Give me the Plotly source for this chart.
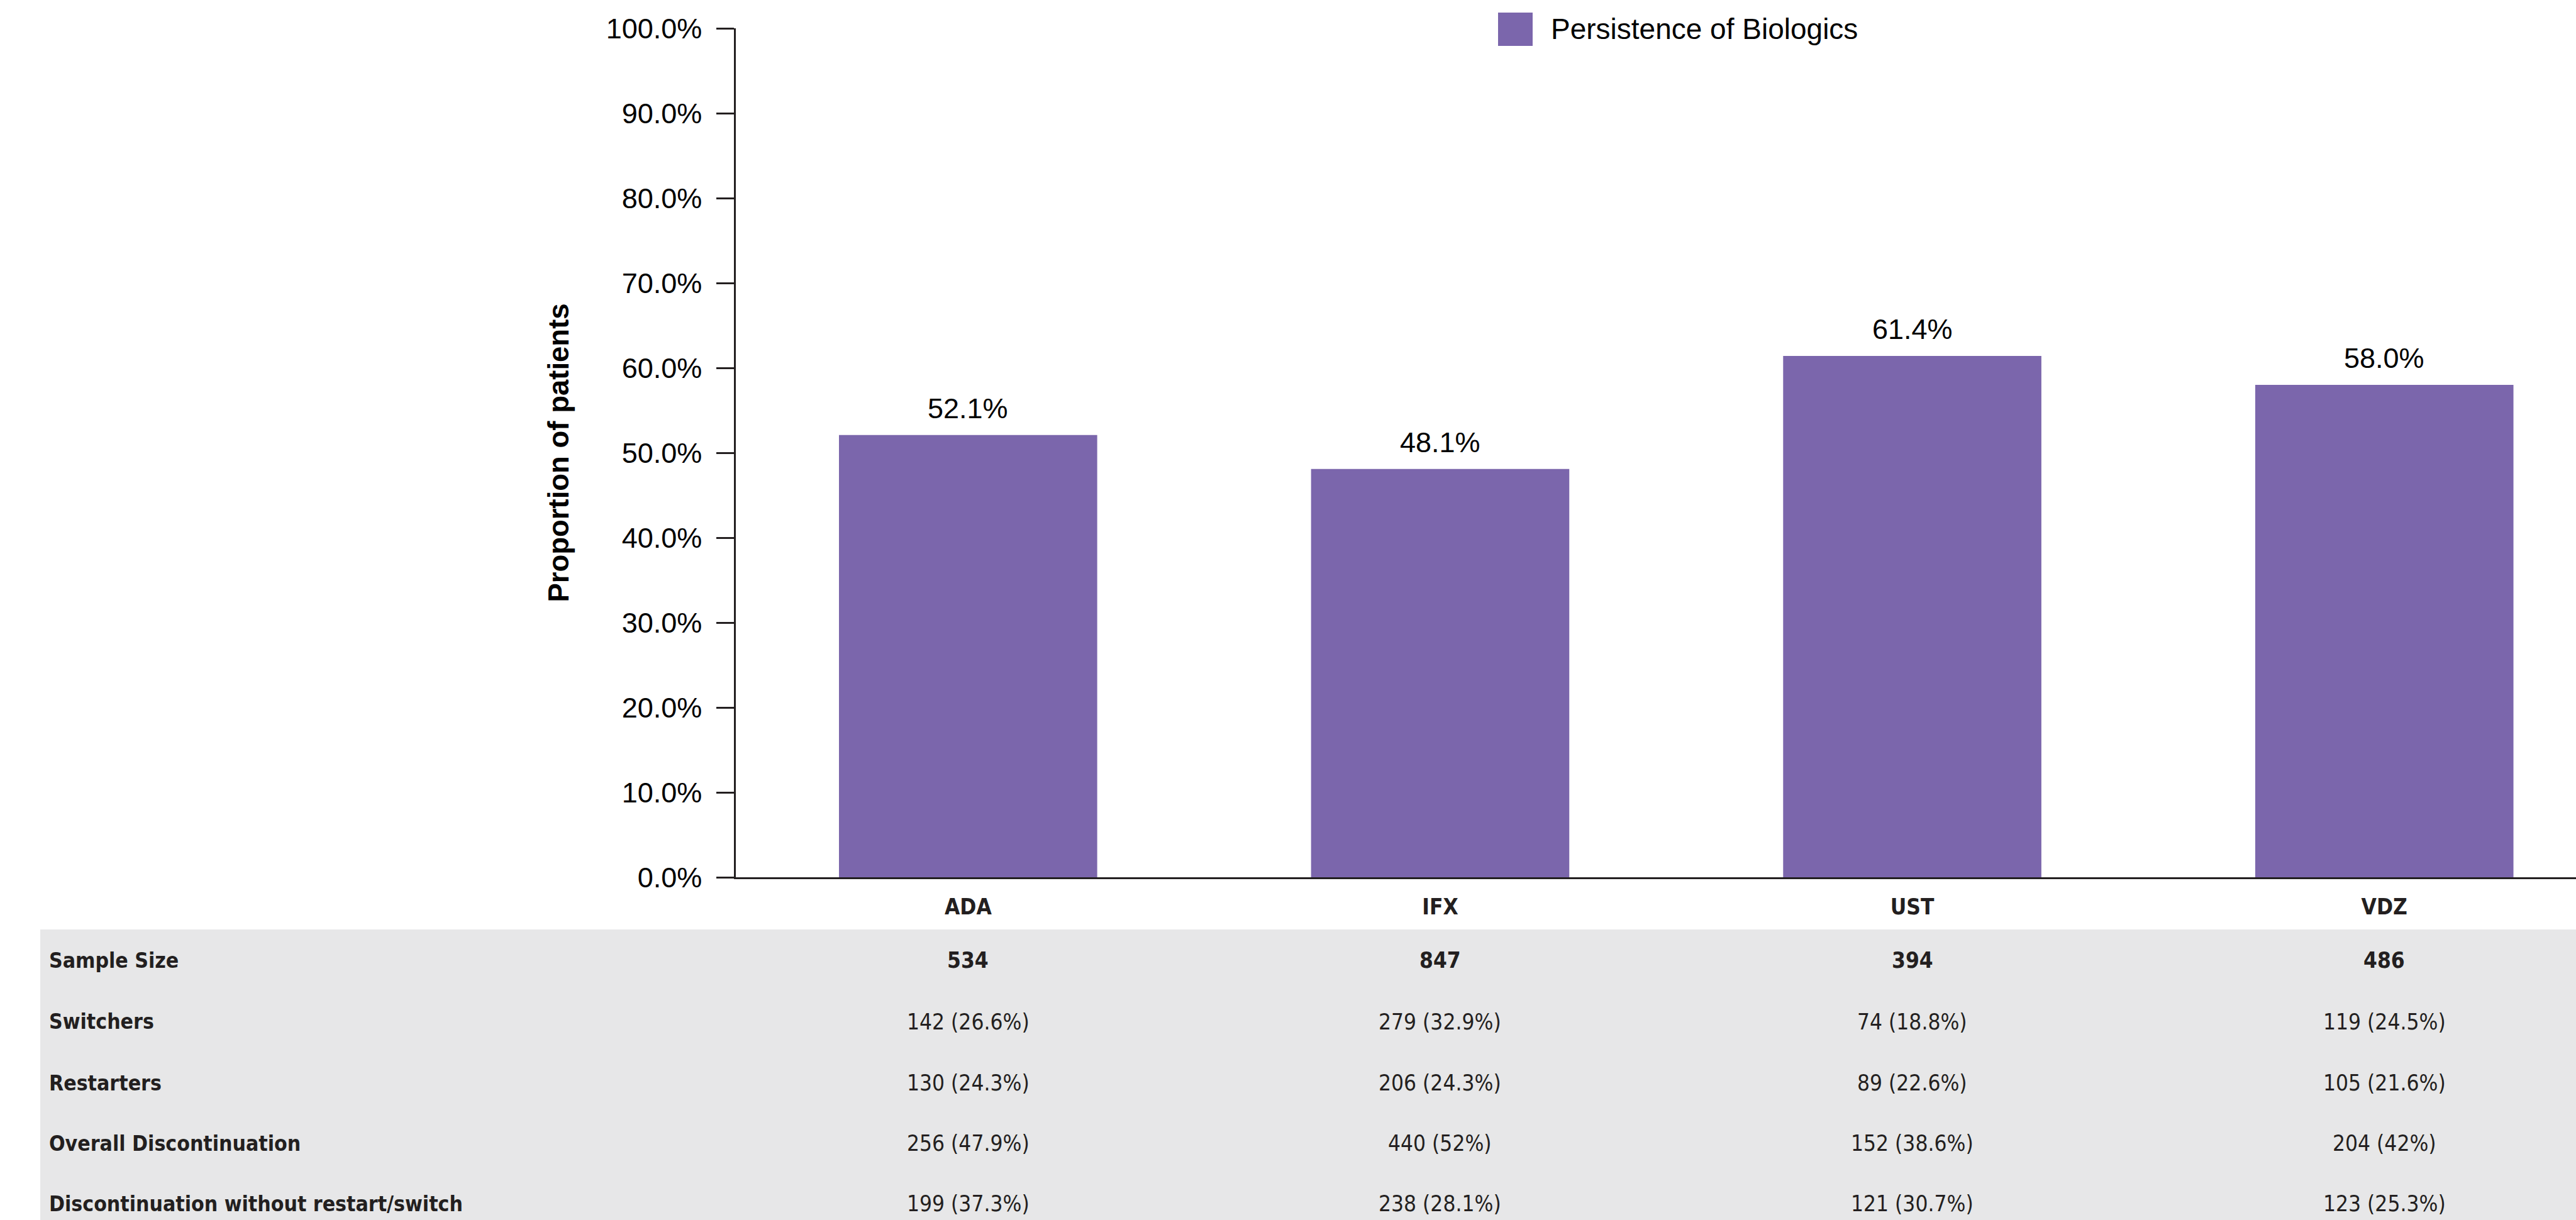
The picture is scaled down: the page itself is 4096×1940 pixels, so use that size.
import plotly.graph_objects as go

# ---------------- data ----------------
categories = ["ADA", "IFX", "UST", "VDZ"]
persistence = [52.1, 48.1, 61.4, 58.0]
y_tick_values = [0, 10, 20, 30, 40, 50, 60, 70, 80, 90, 100]

sample_size = [534, 847, 394, 486]
switchers_n = [142, 279, 74, 119]
switchers_pct = [26.6, 32.9, 18.8, 24.5]
restarters_n = [130, 206, 89, 105]
restarters_pct = [24.3, 24.3, 22.6, 21.6]
overall_disc_n = [256, 440, 152, 204]
overall_disc_pct = [47.9, 52, 38.6, 42]
disc_no_rs_n = [199, 238, 121, 123]
disc_no_rs_pct = [37.3, 28.1, 30.7, 25.3]

row_labels = ["Sample Size", "Switchers", "Restarters",
              "Overall Discontinuation", "Discontinuation without restart/switch"]
legend_label = "Persistence of Biologics"
y_title = "Proportion of patients"

# ---------------- layout constants (pixels) ----------------
W, H = 4096, 1940
ML, MR, MT = 1170, 0, 45
PLOT_BOTTOM = 1395
MB = H - PLOT_BOTTOM
PW = W - ML - MR
PH = PLOT_BOTTOM - MT

BAR_COLOR = "#7B66AC"
AXIS_COLOR = "#231F20"
TABLE_TEXT = "#231F20"
GREY = "#E7E7E8"
SANS = "Liberation Sans, Arial, Helvetica, sans-serif"
NARROW = "DejaVu Sans Condensed, Liberation Sans Narrow, Arial Narrow, sans-serif"


def px_x(px):
    return (px - ML) / PW


def px_y(py):
    return (PLOT_BOTTOM - py) / PH


def fmt_cell(n, p):
    return f"{n} ({p:g}%)"


fig = go.Figure()
fig.add_trace(go.Bar(
    x=categories, y=persistence, width=0.547,
    marker=dict(color=BAR_COLOR, line=dict(width=0)),
    name=legend_label, showlegend=False, hoverinfo="x+y",
))

annotations = []
# bar value labels
for c, v in zip(categories, persistence):
    annotations.append(dict(
        x=c, y=v, xref="x", yref="y", text=f"{v:.1f}%", showarrow=False,
        xanchor="center", yanchor="bottom", yshift=15,
        font=dict(family=SANS, size=45, color="#000000")))

# legend (manual, large swatch)
shapes = [
    dict(type="rect", xref="paper", yref="paper", layer="below",
         x0=px_x(64), x1=1.0, y0=px_y(H), y1=px_y(1478),
         fillcolor=GREY, line=dict(width=0)),
    dict(type="rect", xref="paper", yref="paper",
         x0=px_x(2382), x1=px_x(2437), y0=px_y(73), y1=px_y(20),
         fillcolor=BAR_COLOR, line=dict(width=0)),
]
annotations.append(dict(
    x=px_x(2464), y=px_y(46), xref="paper", yref="paper", text=legend_label,
    showarrow=False, xanchor="left", yanchor="middle",
    font=dict(family=SANS, size=46, color="#000000")))

# table
row_centers = [1527, 1625, 1722, 1818, 1914]
rows = [
    [str(n) for n in sample_size],
    [fmt_cell(n, p) for n, p in zip(switchers_n, switchers_pct)],
    [fmt_cell(n, p) for n, p in zip(restarters_n, restarters_pct)],
    [fmt_cell(n, p) for n, p in zip(overall_disc_n, overall_disc_pct)],
    [fmt_cell(n, p) for n, p in zip(disc_no_rs_n, disc_no_rs_pct)],
]
for i, (label, yc, cells) in enumerate(zip(row_labels, row_centers, rows)):
    annotations.append(dict(
        x=px_x(76), y=px_y(yc), xref="paper", yref="paper", text=label,
        showarrow=False, xanchor="left", yanchor="middle",
        font=dict(family=NARROW, size=33.5, color=TABLE_TEXT, weight="bold")))
    for c, t in zip(categories, cells):
        if i == 0:
            f = dict(family=NARROW, size=35, color=TABLE_TEXT, weight="bold")
        else:
            f = dict(family=NARROW, size=35, color=TABLE_TEXT)
        annotations.append(dict(
            x=c, y=px_y(yc), xref="x", yref="paper", text=t,
            showarrow=False, xanchor="center", yanchor="middle", font=f))

fig.update_layout(
    width=W, height=H,
    margin=dict(l=ML, r=MR, t=MT, b=MB, pad=0, autoexpand=False),
    paper_bgcolor="white", plot_bgcolor="white",
    showlegend=False,
    shapes=shapes, annotations=annotations,
    xaxis=dict(
        type="category", range=[-0.492, 3.406], showgrid=False, zeroline=False,
        showline=True, linecolor=AXIS_COLOR, linewidth=2.5, ticks="",
        tickfont=dict(family=NARROW, size=35, color=TABLE_TEXT, weight="bold"),
        ticklabelstandoff=14, automargin=False,
    ),
    yaxis=dict(
        range=[0, 100], tickvals=y_tick_values,
        ticktext=[f"{v:.1f}%" for v in y_tick_values],
        showgrid=False, zeroline=False, showline=True, linecolor=AXIS_COLOR,
        linewidth=2.5, ticks="outside", ticklen=28, tickwidth=2.5,
        tickcolor=AXIS_COLOR, ticklabelstandoff=14,
        tickfont=dict(family=SANS, size=45, color="#000000"),
        title=dict(text=y_title, standoff=45,
                   font=dict(family=SANS, size=45.5, color="#000000", weight="bold")),
        automargin=False,
    ),
)

fig.write_html("out.html")
